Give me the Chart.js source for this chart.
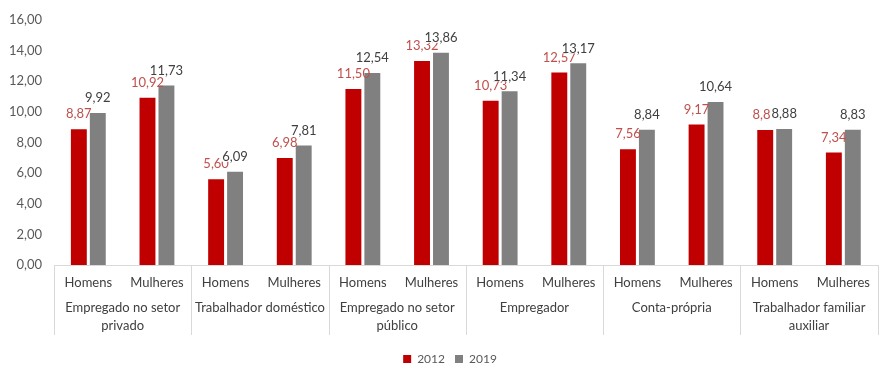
<!DOCTYPE html>
<html>
<head>
<meta charset="utf-8">
<script src="https://cdn.jsdelivr.net/npm/chart.js@4.4.1/dist/chart.umd.min.js"></script>
<style>
  html, body { margin: 0; padding: 0; background: #ffffff; }
  #wrap { width: 880px; height: 365px; position: relative; }
</style>
</head>
<body>
<div id="wrap"><canvas id="chart"></canvas></div>
<script>
// Occupation groups (second level of the x axis)
const groups = [
  ["Empregado no setor", "privado"],
  ["Trabalhador doméstico"],
  ["Empregado no setor", "público"],
  ["Empregador"],
  ["Conta-própria"],
  ["Trabalhador familiar", "auxiliar"]
];
// Sub-categories inside each group
const sexes = ["Homens", "Mulheres"];
const categories = groups.flatMap(() => sexes);

// Series values
const values2012 = [8.87, 10.92, 5.60, 6.98, 11.50, 13.32, 10.73, 12.57, 7.56, 9.17, 8.81, 7.34];
const values2019 = [9.92, 11.73, 6.09, 7.81, 12.54, 13.86, 11.34, 13.17, 8.84, 10.64, 8.88, 8.83];
const seriesNames = ["2012", "2019"];

// Y axis ticks
const yTicks = [0, 2, 4, 6, 8, 10, 12, 14, 16];

const FONT = "Lato, 'Open Sans', sans-serif";
const fmt = v => v.toFixed(2).replace(".", ",");

// Group labels and vertical separators under the category axis
const groupAxis = {
  id: "groupAxis",
  afterDraw(chart) {
    const { ctx, chartArea, scales } = chart;
    const x = scales.x;
    const half = (x.getPixelForValue(1) - x.getPixelForValue(0)) / 2;
    ctx.save();
    ctx.strokeStyle = "#d9d9d9";
    ctx.lineWidth = 1;
    const yTop = chartArea.bottom;
    const yBot = chartArea.bottom + 70;
    for (let g = 0; g <= groups.length; g++) {
      let px;
      if (g < groups.length) px = x.getPixelForValue(g * sexes.length) - half;
      else px = x.getPixelForValue(g * sexes.length - 1) + half;
      px = Math.round(px) + 0.5;
      if (px > chart.width) px = chart.width - 0.5;
      ctx.beginPath();
      ctx.moveTo(px, yTop);
      ctx.lineTo(px, yBot);
      ctx.stroke();
    }
    ctx.fillStyle = "#404040";
    ctx.font = "13px " + FONT;
    ctx.textAlign = "center";
    ctx.textBaseline = "middle";
    groups.forEach((lines, g) => {
      const a = x.getPixelForValue(g * sexes.length);
      const b = x.getPixelForValue(g * sexes.length + sexes.length - 1);
      const cx = (a + b) / 2;
      lines.forEach((t, i) => {
        ctx.fillText(t, cx, chartArea.bottom + 43 + i * 18);
      });
    });
    ctx.restore();
  }
};

// Value labels above bars
const valueLabels = {
  id: "valueLabels",
  afterDatasetsDraw(chart) {
    const { ctx } = chart;
    const colors = ["#c0504d", "#404040"];
    ctx.save();
    ctx.font = "13px " + FONT;
    ctx.textAlign = "center";
    ctx.textBaseline = "middle";
    chart.data.datasets.forEach((ds, di) => {
      const meta = chart.getDatasetMeta(di);
      meta.data.forEach((bar, i) => {
        const txt = fmt(ds.data[i]);
        const ty = bar.y - 15;
        if (di === 1) {
          const w = ctx.measureText(txt).width;
          ctx.fillStyle = "#ffffff";
          ctx.fillRect(bar.x - w / 2 - 1, ty - 5, w + 2, 10);
        }
        ctx.fillStyle = colors[di];
        ctx.fillText(txt, bar.x, ty);
      });
    });
    ctx.restore();
  }
};

// Nudge the legend a little to the right and down
const legendShift = {
  id: "legendShift",
  afterLayout(chart) {
    const lg = chart.legend;
    if (!lg) return;
    lg.left += 10; lg.right += 10;
    lg.top += 2; lg.bottom += 2;
  }
};

new Chart(document.getElementById("chart"), {
  type: "bar",
  data: {
    labels: categories,
    datasets: [
      { label: seriesNames[0], data: values2012, backgroundColor: "#c00000" },
      { label: seriesNames[1], data: values2019, backgroundColor: "#808080" }
    ]
  },
  options: {
    responsive: true,
    maintainAspectRatio: false,
    animation: false,
    devicePixelRatio: 1,
    layout: { padding: { top: 20, left: 0, right: 0, bottom: -8 } },
    datasets: { bar: { categoryPercentage: 0.552, barPercentage: 0.84 } },
    plugins: {
      tooltip: { enabled: false },
      legend: {
        position: "bottom",
        labels: {
          boxWidth: 8,
          boxHeight: 8,
          padding: 10,
          color: "#595959",
          font: { family: FONT, size: 12 }
        }
      }
    },
    scales: {
      x: {
        grid: { display: false, drawTicks: false },
        border: { display: true, color: "#d9d9d9" },
        ticks: {
          color: "#404040",
          font: { family: FONT, size: 13 },
          padding: 10,
          maxRotation: 0,
          autoSkip: false
        },
        afterFit(s) { s.height = 76; }
      },
      y: {
        min: 0,
        max: 16,
        afterBuildTicks(s) { s.ticks = yTicks.map(v => ({ value: v })); },
        grid: { display: false, drawTicks: false },
        border: { display: false },
        ticks: {
          color: "#595959",
          font: { family: FONT, size: 13 },
          padding: 12,
          callback: v => fmt(v)
        },
        afterFit(s) { s.width = 54; }
      }
    }
  },
  plugins: [groupAxis, valueLabels, legendShift]
});
</script>
</body>
</html>
